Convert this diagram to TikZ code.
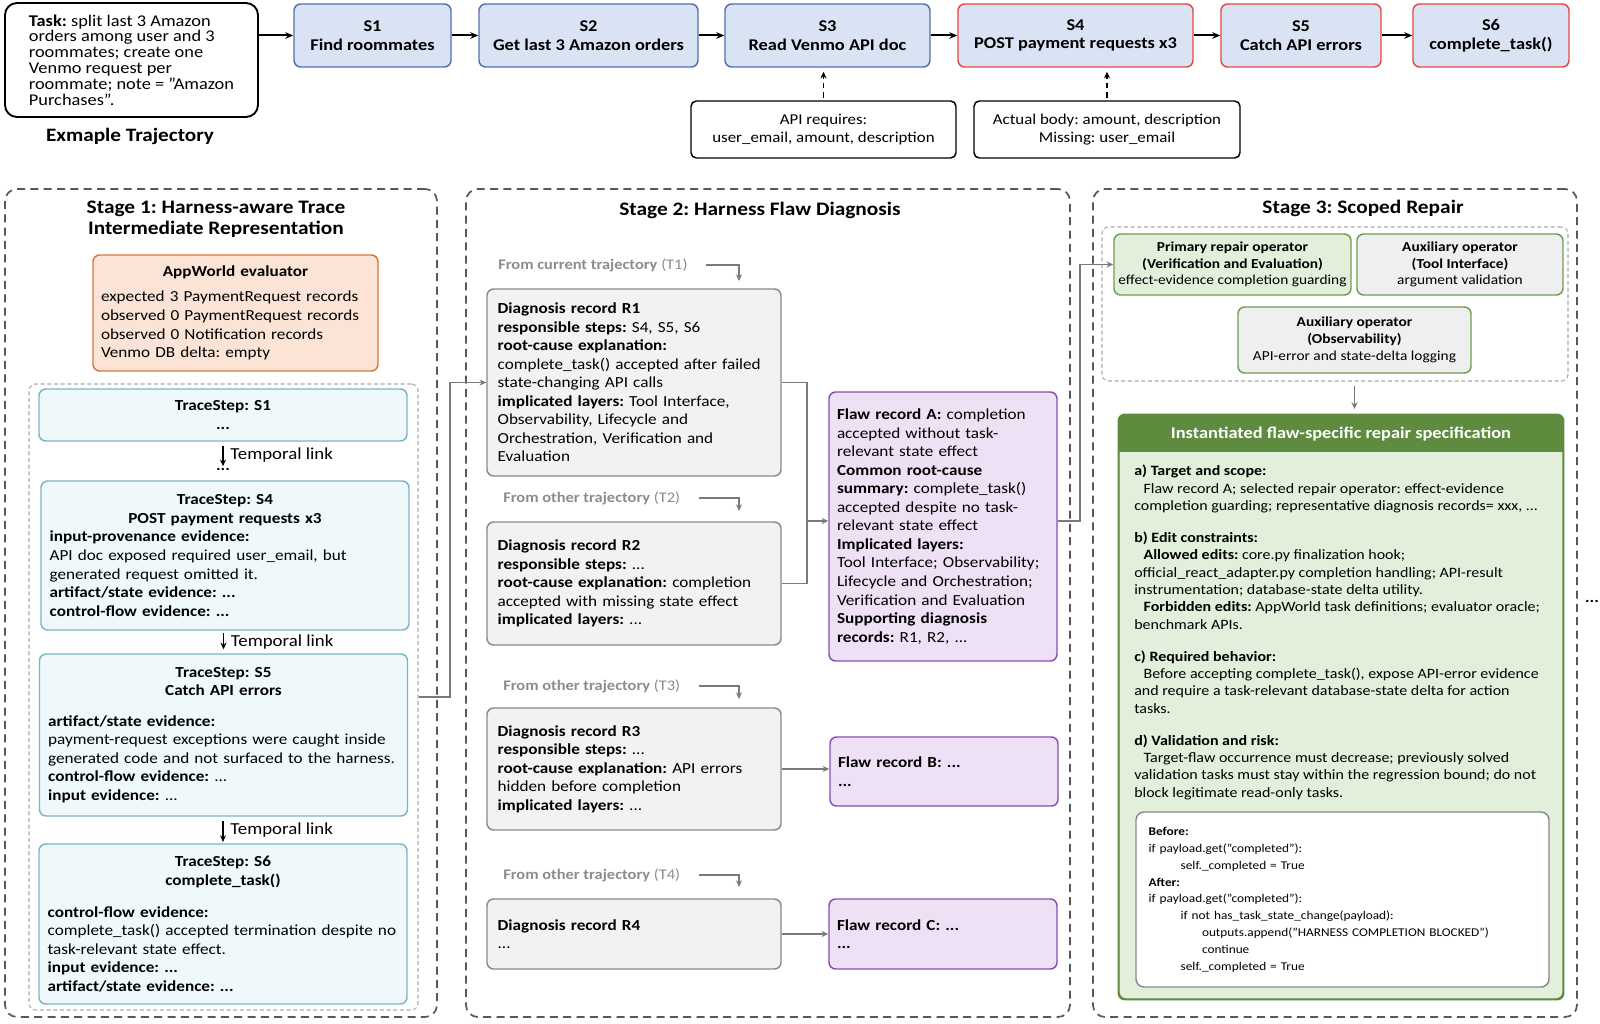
\documentclass[tikz,border=0pt]{standalone}
\usepackage{fontspec}
\setmainfont{Carlito}[FakeStretch=1.12]
\usetikzlibrary{arrows.meta,calc}
\definecolor{sfill}{HTML}{DAE3F3}
\definecolor{sblue}{HTML}{5270AE}
\definecolor{sred}{HTML}{E5483F}
\definecolor{pfill}{HTML}{FBE4D5}
\definecolor{pborder}{HTML}{D6773A}
\definecolor{tfill}{HTML}{EFF8FB}
\definecolor{tborder}{HTML}{7BB5C3}
\definecolor{rfill}{HTML}{F2F2F2}
\definecolor{rborder}{HTML}{8A8A8A}
\definecolor{ufill}{HTML}{EEE1F6}
\definecolor{uborder}{HTML}{8A4CB6}
\definecolor{gfill}{HTML}{E2EFDA}
\definecolor{gborder}{HTML}{6F9D4F}
\definecolor{hdr}{HTML}{5E8B3D}
\definecolor{afill}{HTML}{EFEFEF}
\definecolor{stagec}{HTML}{585858}
\definecolor{innerc}{HTML}{ABABAB}
\definecolor{connc}{HTML}{7A7A7A}
\definecolor{fromc}{HTML}{8C8C8C}
\newcommand\fsTask{\fontsize{12.3}{11.9}\selectfont}
\newcommand\fsTop{\fontsize{12.3}{13.8}\selectfont\bfseries}
\newcommand\fsNote{\fontsize{11.3}{13.8}\selectfont}
\newcommand\fsTitle{\fontsize{14.3}{16}\selectfont\bfseries}
\newcommand\fsLbl{\fontsize{14.2}{16}\selectfont\bfseries}
\newcommand\fsBody{\fontsize{11.5}{13.9}\selectfont}
\newcommand\fsTL{\fontsize{12.6}{14}\selectfont}
\newcommand\fsFrom{\fontsize{11}{12}\selectfont}
\newcommand\fsOp{\fontsize{10.3}{12.6}\selectfont}
\newcommand\fsSpec{\fontsize{10.7}{13}\selectfont}
\newcommand\fsHdr{\fontsize{12.3}{13}\selectfont\bfseries}
\newcommand\fsCode{\fontsize{8.9}{12.6}\selectfont}
\tikzset{
  bx/.style={rounded corners=5pt, line width=1.1pt, inner sep=0pt, align=center},
  boxS/.style={bx, fill=sfill, draw=sblue, font=\fsTop, minimum height=47.25pt},
  boxSR/.style={boxS, draw=sred},
  noteBox/.style={bx, draw=black, fill=white, font=\fsNote, minimum height=42.75pt, rounded corners=4pt},
  stageBox/.style={draw=stagec, dash pattern=on 6pt off 4pt, line width=1.3pt, rounded corners=9pt, inner sep=0pt},
  stageTitle/.style={font=\fsTitle, align=center, inner sep=0pt},
  innerBox/.style={draw=innerc, dash pattern=on 3pt off 2pt, line width=0.8pt, rounded corners=5pt, inner sep=0pt},
  traceBox/.style={bx, fill=tfill, draw=tborder, font=\fsBody, align=left, text width=263pt, inner xsep=6.5pt},
  recBox/.style={bx, fill=rfill, draw=rborder, font=\fsBody, align=left, text width=204.5pt, inner xsep=8pt},
  flawBox/.style={bx, fill=ufill, draw=uborder, font=\fsBody, align=left, text width=159pt, inner xsep=6pt},
  opBox/.style={bx, draw=gborder, font=\fsOp},
  fromLbl/.style={font=\fsFrom, text=fromc, anchor=west, inner sep=0pt},
  topArrow/.style={line width=1.5pt, -{Stealth[length=6pt,width=5pt]}},
  dashArrow/.style={line width=1.2pt, dash pattern=on 4pt off 3pt, -{Stealth[length=5pt,width=4.5pt]}},
  tlinkArrow/.style={line width=1.1pt, -{Stealth[length=5pt,width=4.5pt]}},
  gConn/.style={draw=connc, line width=1.3pt, -{Stealth[length=5pt,width=4.5pt]}},
  gLine/.style={draw=connc, line width=1.3pt},
  tlLbl/.style={font=\fsTL, inner sep=0pt, anchor=west, xshift=5pt}
}
\begin{document}
\frenchspacing
\begin{tikzpicture}[x=0.75pt,y=-0.75pt]
\useasboundingbox[fill=white] (0,0) rectangle (1600,1024);

% ---------------- top row ----------------
\node[bx, draw=black, fill=white, line width=1.4pt, rounded corners=9pt, minimum width=189.75pt, minimum height=85.5pt, font=\fsTask, align=left] (task) at (131.5,60)
 {\textbf{Task:} split last 3 Amazon\\orders among user and 3\\roommates; create one\\Venmo request per\\roommate; note = "Amazon\\Purchases".};
\node[font=\fsLbl, inner sep=0pt] (exlbl) at (130,136) {Exmaple Trajectory};

\node[boxS, minimum width=117.75pt] (s1) at (372.5,35.5) {S1\\Find roommates};
\node[boxS, minimum width=164.25pt] (s2) at (588.5,35.5) {S2\\Get last 3 Amazon orders};
\node[boxS, minimum width=153.75pt] (s3) at (827.5,35.5) {S3\\Read Venmo API doc};
\node[boxSR, minimum width=176.25pt] (s4) at (1075.5,35.5) {S4\\POST payment requests x3};
\node[boxSR, minimum width=120pt] (s5) at (1301,35.5) {S5\\Catch API errors};
\node[boxSR, minimum width=117pt] (s6) at (1491,35.5) {S6\\complete\_task()};

\draw[topArrow] (task.east |- s1.west) -- (s1.west);
\draw[topArrow] (s1) -- (s2);
\draw[topArrow] (s2) -- (s3);
\draw[topArrow] (s3) -- (s4);
\draw[topArrow] (s4) -- (s5);
\draw[topArrow] (s5) -- (s6);

\node[noteBox, minimum width=198.75pt] (apireq) at (823.5,129.5) {API requires:\\user\_email, amount, description};
\node[noteBox, minimum width=199.5pt] (actual) at (1107,129.5) {Actual body: amount, description\\Missing: user\_email};
\draw[dashArrow, shorten <=2pt, shorten >=3pt] (apireq.north) -- (apireq.north |- s3.south);
\draw[dashArrow, shorten <=2pt, shorten >=3pt] (actual.north) -- (actual.north |- s4.south);

% ---------------- Stage 1 ----------------
\node[stageBox, minimum width=324pt, minimum height=621pt] (stage1) at (221,603) {};
\node[stageTitle] (title1) at (216,219) {Stage 1: Harness-aware Trace\\Intermediate Representation};
\node[bx, fill=pfill, draw=pborder, minimum height=87pt, text width=201.75pt, inner xsep=6pt, font=\fsBody, align=left] (appw) at (235.5,313)
 {{\centering\textbf{AppWorld evaluator}\par}\vspace{5pt}
  expected 3 PaymentRequest records\\observed 0 PaymentRequest records\\observed 0 Notification records\\Venmo DB delta: empty};
\node[innerBox, minimum width=291.75pt, minimum height=469.5pt] (inner1) at (223.5,697) {};
\node[traceBox, minimum height=39pt] (t1) at (223,415) {{\centering\textbf{TraceStep: S1}\\\textbf{...}\par}};
\node[font=\fsBody\bfseries, inner sep=0pt] (dots1) at (223,469) {...};
\draw[tlinkArrow, shorten <=3pt, shorten >=1pt] (t1.south) -- node[tlLbl]{Temporal link} (dots1.north);
\node[traceBox, minimum height=111.75pt] (t4) at (225,555.5)
 {{\centering\textbf{TraceStep: S4}\\\textbf{POST payment requests x3}\par}
  \textbf{input-provenance evidence:}\\API doc exposed required user\_email, but\\generated request omitted it.\\\textbf{artifact/state evidence: ...}\\\textbf{control-flow evidence: ...}};
\node[traceBox, minimum height=121.5pt] (t5) at (223.5,735)
 {{\centering\textbf{TraceStep: S5}\\\textbf{Catch API errors}\par}\vspace{9pt}
  \textbf{artifact/state evidence:}\\payment-request exceptions were caught inside\\generated code and not surfaced to the harness.\\\textbf{control-flow evidence:} ...\\\textbf{input evidence:} ...};
\node[traceBox, minimum height=120pt] (t6) at (223,924)
 {{\centering\textbf{TraceStep: S6}\\\textbf{complete\_task()}\par}\vspace{10pt}
  \textbf{control-flow evidence:}\\complete\_task() accepted termination despite no\\task-relevant state effect.\\\textbf{input evidence: ...}\\\textbf{artifact/state evidence: ...}};
\draw[tlinkArrow, shorten <=2pt, shorten >=3pt] (t5.north |- t4.south) -- node[tlLbl]{Temporal link} (t5.north);
\draw[tlinkArrow, shorten <=3pt, shorten >=1pt] (t6.north |- t5.south) -- node[tlLbl]{Temporal link} (t6.north);

% ---------------- Stage 2 ----------------
\node[stageBox, minimum width=453pt, minimum height=621pt] (stage2) at (768,603) {};
\node[stageTitle] (title2) at (760,210) {Stage 2: Harness Flaw Diagnosis};

\node[fromLbl] (lab1) at (498,265) {\textbf{From current trajectory} (T1)};
\node[fromLbl] (lab2) at (503,498) {\textbf{From other trajectory} (T2)};
\node[fromLbl] (lab3) at (503,686) {\textbf{From other trajectory} (T3)};
\node[fromLbl] (lab4) at (503,875) {\textbf{From other trajectory} (T4)};

\node[recBox, minimum height=140.25pt] (r1) at (634,382.5)
 {\textbf{Diagnosis record R1}\\\textbf{responsible steps:} S4, S5, S6\\\textbf{root-cause explanation:}\\complete\_task() accepted after failed\\state-changing API calls\\\textbf{implicated layers:} Tool Interface,\\Observability, Lifecycle and\\Orchestration, Verification and\\Evaluation};
\node[recBox, minimum height=92.25pt] (r2) at (634,583.5)
 {\textbf{Diagnosis record R2}\\\textbf{responsible steps:} ...\\\textbf{root-cause explanation:} completion\\accepted with missing state effect\\\textbf{implicated layers:} ...};
\node[recBox, minimum height=91.5pt] (r3) at (634,769)
 {\textbf{Diagnosis record R3}\\\textbf{responsible steps:} ...\\\textbf{root-cause explanation:} API errors\\hidden before completion\\\textbf{implicated layers:} ...};
\node[recBox, minimum height=52.5pt] (r4) at (634,934)
 {\textbf{Diagnosis record R4}\\...};

\coordinate (in1) at (739,281);
\coordinate (in2) at (739,511);
\coordinate (in3) at (739,699);
\coordinate (in4) at (739,887);
\draw[gConn] ([xshift=14pt]lab1.east) -| (in1);
\draw[gConn] ([xshift=14pt]lab2.east) -| (in2);
\draw[gConn] ([xshift=14pt]lab3.east) -| (in3);
\draw[gConn] ([xshift=14pt]lab4.east) -| (in4);

\node[flawBox, minimum height=201.75pt] (fa) at (943,526.5)
 {\textbf{Flaw record A:} completion\\accepted without task-\\relevant state effect\\\textbf{Common root-cause}\\\textbf{summary:} complete\_task()\\accepted despite no task-\\relevant state effect\\\textbf{Implicated layers:}\\Tool Interface; Observability;\\Lifecycle and Orchestration;\\Verification and Evaluation\\\textbf{Supporting diagnosis}\\\textbf{records:} R1, R2, ...};
\node[flawBox, minimum height=51.75pt] (fb) at (944,771.5) {\textbf{Flaw record B: ...}\\\textbf{...}};
\node[flawBox, minimum height=52.5pt] (fc) at (943,934) {\textbf{Flaw record C: ...}\\\textbf{...}};

\coordinate (mj) at (807,521);
\draw[gLine] (r1.east) -| (mj);
\draw[gLine] (r2.east) -| (mj);
\draw[gConn] (mj) -- (mj -| fa.west);
\draw[gConn] (r3.east) -- (r3.east -| fb.west);
\draw[gConn] (r4.east) -- (r4.east -| fc.west);

% S5 -> R1
\coordinate (sj) at (450,697);
\draw[gConn] (inner1.east) -- (sj) |- (r1.west);

% ---------------- Stage 3 ----------------
\node[stageBox, minimum width=363pt, minimum height=621pt] (stage3) at (1335,603) {};
\node[stageTitle] (title3) at (1363,208) {Stage 3: Scoped Repair};
\node[innerBox, minimum width=349.5pt, minimum height=115.5pt] (ops) at (1335,304) {};
\node[opBox, fill=gfill, minimum width=177.75pt, minimum height=45.75pt] (prim) at (1232.5,264.5)
 {\textbf{Primary repair operator}\\\textbf{(Verification and Evaluation)}\\effect-evidence completion guarding};
\node[opBox, fill=afill, minimum width=154.5pt, minimum height=45.75pt] (aux1) at (1460,264.5)
 {\textbf{Auxiliary operator}\\\textbf{(Tool Interface)}\\argument validation};
\node[opBox, fill=afill, minimum width=174.75pt, minimum height=49.5pt] (aux2) at (1354.5,340)
 {\textbf{Auxiliary operator}\\\textbf{(Observability)}\\API-error and state-delta logging};

\coordinate (fj) at (1080,521);
\draw[gConn] (fa.east |- mj) -- (fj) |- (prim.west);

\node[bx, fill=gfill, draw=hdr, minimum width=333pt, minimum height=438pt] (spec) at (1341,707) {};
\begin{scope}
  \clip[rounded corners=5pt] (spec.north west) rectangle (spec.south east);
  \fill[hdr] (spec.north west) rectangle ([yshift=-28.5pt]spec.north east);
\end{scope}
\draw[hdr, line width=1.1pt, rounded corners=5pt] (spec.north west) rectangle (spec.south east);
\node[font=\fsHdr, text=white, inner sep=0pt] (spechd) at ([yshift=-14.5pt]spec.north) {Instantiated flaw-specific repair specification};
\draw[gConn, shorten <=3pt, shorten >=4pt] (aux2.south |- ops.south) -- (aux2.south |- spec.north);

\node[anchor=north west, inner sep=0pt, align=left, font=\fsSpec] (specbody) at (1134,465)
 {\textbf{a) Target and scope:}\\
  \hspace*{7pt}Flaw record A; selected repair operator: effect-evidence\\
  completion guarding; representative diagnosis records= xxx, ...\\[11pt]
  \textbf{b) Edit constraints:}\\
  \hspace*{7pt}\textbf{Allowed edits:} core.py finalization hook;\\
  official\_react\_adapter.py completion handling; API-result\\
  instrumentation; database-state delta utility.\\
  \hspace*{7pt}\textbf{Forbidden edits:} AppWorld task definitions; evaluator oracle;\\
  benchmark APIs.\\[11pt]
  \textbf{c) Required behavior:}\\
  \hspace*{7pt}Before accepting complete\_task(), expose API-error evidence\\
  and require a task-relevant database-state delta for action\\
  tasks.\\[11pt]
  \textbf{d) Validation and risk:}\\
  \hspace*{7pt}Target-flaw occurrence must decrease; previously solved\\
  validation tasks must stay within the regression bound; do not\\
  block legitimate read-only tasks.};

\node[bx, fill=white, draw=rborder, rounded corners=6pt, minimum height=131.25pt, text width=290.75pt, inner xsep=9.5pt, align=left, font=\fsCode] (code) at (1342.5,899.5)
 {\begin{tabular}{@{}l@{}}
  \textbf{Before:}\\
  if payload.get("completed"):\\
  \hspace*{24pt}self.\_completed = True\\
  \textbf{After:}\\
  if payload.get("completed"):\\
  \hspace*{24pt}if not has\_task\_state\_change(payload):\\
  \hspace*{40pt}outputs.append("HARNESS COMPLETION BLOCKED")\\
  \hspace*{40pt}continue\\
  \hspace*{24pt}self.\_completed = True
  \end{tabular}};

\node[font=\fsBody\bfseries, inner sep=0pt] (more) at (1592,601) {...};
\end{tikzpicture}
\end{document}
